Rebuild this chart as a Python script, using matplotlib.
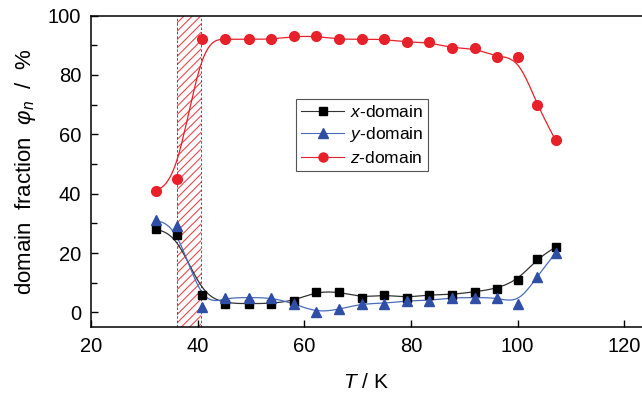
"""
Domain fractions (x, y, z) versus temperature, with the transition band hatched.
"""

import numpy as np
import matplotlib.pyplot as plt
from matplotlib.ticker import MultipleLocator

plt.rcParams["font.family"] = ["Liberation Sans", "DejaVu Sans"]
plt.rcParams["mathtext.fontset"] = "custom"
plt.rcParams["mathtext.rm"] = "Liberation Sans"
plt.rcParams["mathtext.it"] = "Liberation Sans:italic"
plt.rcParams["hatch.linewidth"] = 0.8

T = [32.2, 36.2, 40.8, 45.2, 49.7, 53.8, 58.1, 62.3, 66.5, 70.8,
     75.0, 79.2, 83.4, 87.7, 92.0, 96.1, 100.1, 103.6, 107.1]
x_domain = [28, 26, 6, 3, 3, 3, 4, 7, 7, 5, 6, 5, 6, 6, 7, 8, 11, 18, 22]
y_domain = [31, 29, 2, 5, 5, 5, 3, 0, 1, 3, 3, 4, 4, 5, 5, 5, 3, 12, 20]
z_domain = [41, 45, 92, 92, 92, 92, 93, 93, 92, 92, 92, 91, 91, 89, 89, 86, 86, 70, 58]

band = (36.2, 40.7)


def bspline(xs, ys, n=20):
    """Uniform cubic B-spline with the points as control points (clamped ends)."""
    p = np.column_stack([xs, ys]).astype(float)
    p = np.vstack([p[0], p[0], p, p[-1], p[-1]])
    t = np.linspace(0, 1, n, endpoint=False)[:, None]
    b0 = (1 - t) ** 3 / 6
    b1 = (3 * t ** 3 - 6 * t ** 2 + 4) / 6
    b2 = (-3 * t ** 3 + 3 * t ** 2 + 3 * t + 1) / 6
    b3 = t ** 3 / 6
    out = []
    for i in range(len(p) - 3):
        out.append(b0 * p[i] + b1 * p[i + 1] + b2 * p[i + 2] + b3 * p[i + 3])
    out.append(p[-1][None, :])
    out = np.vstack(out)
    return out[:, 0], out[:, 1]


fig = plt.figure(figsize=(6.42, 3.98), dpi=100)
ax = fig.add_axes([0.1414, 0.1776, 0.8586, 0.7834])

ax.axvspan(band[0], band[1], facecolor="none", edgecolor="#ec4a4f",
           hatch="////", linewidth=0, zorder=1)
for b in band:
    ax.axvline(b, color="#555555", linestyle=(0, (2.5, 2)), linewidth=0.7, zorder=1)

series = [
    (x_domain, "#000000", "#333333", "s", 6.0, "$x$-domain"),
    (y_domain, "#2f4fa6", "#4a6cc0", "^", 7.0, "$y$-domain"),
    (z_domain, "#e8202a", "#e8202a", "o", 7.0, "$z$-domain"),
]
handles = []
for vals, mc, lc, mk, ms, label in series:
    sx, sy = bspline(T, vals)
    ax.plot(sx, sy, color=lc, linewidth=0.9, zorder=2)
    ax.plot(T, vals, linestyle="none", marker=mk, markersize=ms,
            color=mc, markeredgecolor=mc, zorder=3)
    h, = ax.plot([], [], color=lc, linewidth=0.8, marker=mk, markersize=ms - 0.5,
                 markerfacecolor=mc, markeredgecolor=mc, label=label)
    handles.append(h)

ax.set_xlim(20, 123.3)
ax.set_ylim(-5, 100)
ax.xaxis.set_major_locator(MultipleLocator(20))
ax.yaxis.set_major_locator(MultipleLocator(20))
ax.yaxis.set_minor_locator(MultipleLocator(10))
ax.tick_params(which="both", direction="in", labelsize=14.5, width=1.0,
               top=False, right=False, pad=7)
ax.tick_params(which="major", length=5)
ax.tick_params(which="minor", length=4)

ax.spines["right"].set_visible(False)
for s in ("left", "bottom", "top"):
    ax.spines[s].set_linewidth(1.1)

ax.set_xlabel("$T$ / K", fontsize=15, labelpad=12)
ax.set_ylabel(r"domain  fraction  $\varphi_n$  /  %", fontsize=16, labelpad=7)

leg = ax.legend(handles=handles, loc="upper left", bbox_to_anchor=(0.372, 0.732),
                borderaxespad=0, fontsize=12.5, handlelength=2.5, handletextpad=0.3,
                labelspacing=0.3, fancybox=False, framealpha=1, borderpad=0.3)
leg.get_frame().set_edgecolor("#555555")
leg.get_frame().set_linewidth(0.8)

plt.savefig("out.png", dpi=100)
